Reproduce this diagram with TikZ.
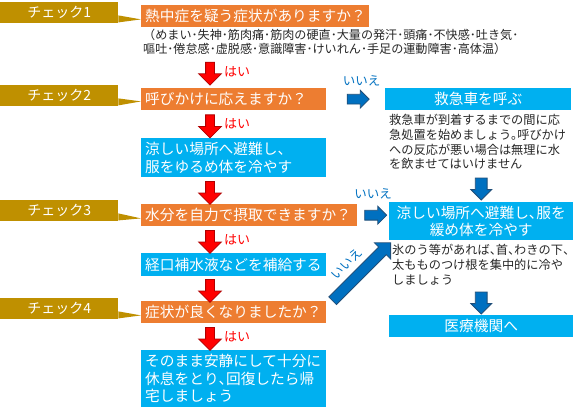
\documentclass[tikz,border=0pt]{standalone}
\usepackage{fontspec}
\setmainfont{Noto Sans CJK JP}
\usetikzlibrary{positioning,calc,shapes.arrows}
\definecolor{chkgold}{HTML}{BF9000}
\definecolor{qorange}{HTML}{ED7D31}
\definecolor{boxblue}{HTML}{00B0F0}
\definecolor{arrblue}{HTML}{0070C0}
\definecolor{arrblueline}{HTML}{1F4E79}
\definecolor{arrredline}{HTML}{B00000}
\definecolor{notegray}{HTML}{262626}
\newcommand{\hten}{\makebox[.5em][l]{、}}
\newcommand{\hmaru}{\makebox[.5em][l]{。}}
\begin{document}
\begin{tikzpicture}[
  x=1pt, y=-1pt,
  every node/.style={inner sep=0pt},
  chk/.style={anchor=north west, fill=chkgold, text=white, minimum width=118pt, minimum height=21pt, font=\fontsize{14}{16}\selectfont},
  qbox/.style={anchor=north west, fill=qorange, text=white, align=left, inner xsep=4pt, minimum height=22pt, font=\fontsize{14.7}{17.5}\selectfont},
  abox/.style={anchor=north west, fill=boxblue, text=white, align=left, inner xsep=4pt, text width=177pt, font=\fontsize{14.7}{17.5}\selectfont},
  rbox/.style={anchor=north west, fill=boxblue, text=white, align=center, text width=184pt, font=\fontsize{14.7}{16.5}\selectfont},
  note/.style={anchor=north west, text=notegray, align=left, font=\fontsize{12.2}{14.8}\selectfont},
  hai/.style={anchor=west, text=red, font=\fontsize{13}{13}\selectfont},
  iie/.style={text=arrblue, font=\fontsize{12.5}{12.5}\selectfont},
  redarr/.style={single arrow, single arrow head extend=7pt, minimum width=22pt, minimum height=23pt, inner sep=4pt, shape border rotate=270, fill=red, draw=arrredline, line width=.8pt},
  bluearr/.style={single arrow, fill=arrblue, draw=arrblueline, line width=.8pt}
]
\useasboundingbox (0,0) rectangle (580,414);

\node[chk] (chk1) at (0,2) {チェック1};
\node[chk] (chk2) at (0,85) {チェック2};
\node[chk] (chk3) at (0,200) {チェック3};
\node[chk] (chk4) at (0,298) {チェック4};

\node[qbox, text width=220pt] (q1) at (141,5) {熱中症を疑う症状がありますか？};
\node[note, font=\fontsize{12.1}{14}\selectfont] (sub1) at (143,29)
  {（めまい･失神･筋肉痛･筋肉の硬直･大量の発汗･頭痛･不快感･吐き気･\\嘔吐･倦怠感･虚脱感･意識障害･けいれん･手足の運動障害･高体温）};
\node[qbox, text width=177pt] (q2) at (141,88) {呼びかけに応えますか？};
\node[abox, minimum height=39pt] (a1) at (141,138) {涼しい場所へ避難し、\\服をゆるめ体を冷やす};
\node[qbox, text width=208pt] (q3) at (141,204) {水分を自力で摂取できますか？};
\node[abox, minimum height=23pt] (a2) at (141,253) {経口補水液などを補給する};
\node[qbox, text width=177pt] (q4) at (141,301) {症状が良くなりましたか？};
\node[abox, minimum height=57pt] (a3) at (141,350) {そのまま安静にして十分に\\休息をとり\hten{}回復したら帰\\宅しましょう};

\node[rbox, text width=186pt, minimum height=22pt] (call) at (385,88) {救急車を呼ぶ};
\node[note] (callnote) at (389,114) {救急車が到着するまでの間に応\\急処置を始めましょう\hmaru{}呼びかけ\\への反応が悪い場合は無理に水\\を飲ませてはいけません};
\node[rbox, minimum height=38pt] (cool) at (389,202) {涼しい場所へ避難し\hten{}服を\\緩め体を冷やす};
\node[note] (coolnote) at (392,244) {氷のう等があれば\hten{}首\hten{}わきの下\hten{}\\太もものつけ根を集中的に冷や\\しましょう};
\node[rbox, minimum height=22pt] (hosp) at (389,315) {医療機関へ};

\fill[chkgold] ([yshift=8pt]chk1.south east) -- ([yshift=8pt]q1.south west) -- ([yshift=1pt]chk1.south east) -- cycle;
\fill[chkgold] ([yshift=8pt]chk2.south east) -- ([yshift=9pt]q2.south west) -- ([yshift=1pt]chk2.south east) -- cycle;
\fill[chkgold] ([yshift=8pt]chk3.south east) -- ([yshift=8pt]q3.south west) -- ([yshift=1pt]chk3.south east) -- cycle;
\fill[chkgold] ([yshift=8pt]chk4.south east) -- ([yshift=8pt]q4.south west) -- ([yshift=1pt]chk4.south east) -- cycle;

\node[redarr] (r1) at ($(sub1.south -| q1.west)!.5!(q2.north west)+(69,0)$) {};
\node[redarr] (r2) at ($(q2.south west)!.5!(a1.north west)+(69,0)$) {};
\node[redarr] (r3) at ($(a1.south west)!.5!(q3.north west)+(69,0)$) {};
\node[redarr] (r4) at ($(q3.south west)!.5!(a2.north west)+(69,0)$) {};
\node[redarr] (r5) at ($(a2.south west)!.5!(q4.north west)+(69,0)$) {};
\node[redarr] (r6) at ($(q4.south west)!.5!(a3.north west)+(69,0)$) {};
\node[hai] (h1) at ([xshift=14pt]r1.center) {はい};
\node[hai] (h2) at ([xshift=14pt]r2.center) {はい};
\node[hai] (h4) at ([xshift=14pt]r4.center) {はい};
\node[hai] (h6) at ([xshift=14pt]r6.center) {はい};

\node[bluearr, single arrow head extend=4pt, minimum width=17pt, minimum height=22pt, inner sep=4.5pt] (b1) at ($(q2.east)!.5!(call.west)$) {};
\node[bluearr, single arrow head extend=4.5pt, minimum width=20pt, minimum height=22pt, inner sep=5.5pt, shape border rotate=270] (b2) at ($(callnote.south -| cool.north)!.5!(cool.north)$) {};
\node[bluearr, single arrow head extend=4pt, minimum width=17pt, minimum height=22pt, inner sep=4.5pt] (b3) at ($(q3.east)!.5!(cool.west |- q3.east)$) {};
\node[bluearr, single arrow head extend=6pt, minimum width=22pt, minimum height=82pt, inner sep=5pt, rotate=45] (b4) at ($(q4.north east)!.5!(cool.south west)+(2,3)$) {};
\node[bluearr, single arrow head extend=4.5pt, minimum width=20pt, minimum height=22pt, inner sep=5.5pt, shape border rotate=270] (b5) at ($(coolnote.south -| hosp.north)!.5!(hosp.north)$) {};
\node[iie] (i1) at ([xshift=6pt,yshift=18pt]b1.center) {いいえ};
\node[iie] (i2) at ([yshift=21pt]b3.center) {いいえ};
\node[iie, rotate=45] (i3) at ([xshift=-13pt,yshift=10pt]b4.center) {いいえ};
\end{tikzpicture}
\end{document}
